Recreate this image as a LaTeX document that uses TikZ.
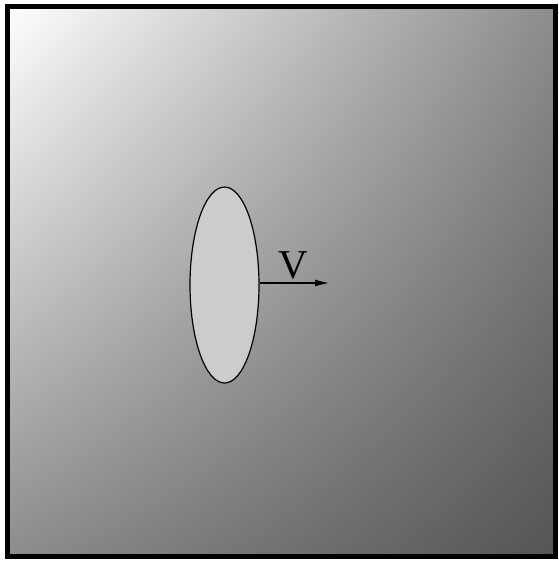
\documentclass[tikz,border=0pt]{standalone}
\usepackage{fontspec}
\setmainfont{Liberation Serif}
\usetikzlibrary{arrows.meta,shadings,shapes.geometric}
\begin{document}
\begin{tikzpicture}[x=1pt,y=-1pt]
    \useasboundingbox (0,0) rectangle (558,563);
    \shade[upper left=white, upper right=black!45, lower left=black!45, lower right=black!67]
        (7,6) rectangle (555,556);
    \draw[line width=5pt] (7,6) rectangle (555,556);
    \node[draw, line width=1.2pt, fill=black!20, ellipse, minimum width=69pt, minimum height=196pt, inner sep=0pt] (body) at (224.5,285) {};
    \coordinate (tip) at (329,283);
    \draw[line width=1.2pt, -{Latex[length=14pt,width=7pt]}] (body.east |- tip) -- (tip);
    \node (vel) at (293,265) {\fontsize{41}{44}\selectfont V};
\end{tikzpicture}
\end{document}
